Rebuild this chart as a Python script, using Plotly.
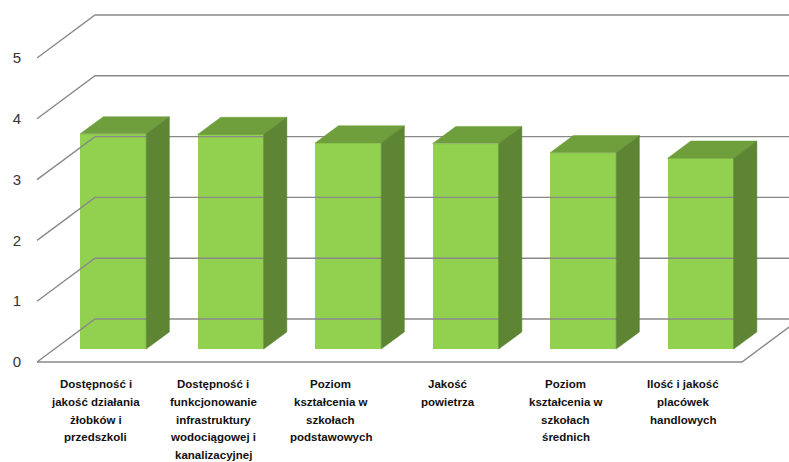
import plotly.graph_objects as go

# ---- data ----
categories = [
    "Dostępność i\njakość działania\nżłobków i\nprzedszkoli",
    "Dostępność i\nfunkcjonowanie\ninfrastruktury\nwodociągowej i\nkanalizacyjnej",
    "Poziom\nkształcenia w\nszkołach\npodstawowych",
    "Jakość\npowietrza",
    "Poziom\nkształcenia w\nszkołach\nśrednich",
    "Ilość i jakość\nplacówek\nhandlowych",
]
values = [3.54, 3.53, 3.39, 3.38, 3.23, 3.14]
y_ticks = [0, 1, 2, 3, 4, 5]
y_tick_labels = ["0", "1", "2", "3", "4", "5"]

# ---- style / geometry ----
FRONT = "#92D050"
TOP = "#6F9E3C"
SIDE = "#5D8533"
GRID = "#898989"
DX = 0.4936   # depth offset in category units
DY = 0.707    # depth offset in value units
D0, D1 = 0.3, 0.7  # bar depth span
BW = 0.562
n = len(categories)
XMIN = -0.0596
XMAX = XMIN + 759 / 117.5
YMIN = -10 / 60.8
YMAX = 362 / 60.8

fig = go.Figure()

# back-wall gridlines with slanted left edges
for v in y_ticks:
    fig.add_trace(go.Scatter(
        x=[0, DX, XMAX + 1], y=[v, v + DY, v + DY], mode="lines",
        line=dict(color=GRID, width=1.4), hoverinfo="skip", showlegend=False))
# floor front and right edges
fig.add_trace(go.Scatter(
    x=[0, n, n + DX * 1.2], y=[0, 0, DY * 1.2], mode="lines",
    line=dict(color=GRID, width=1.4), hoverinfo="skip", showlegend=False))

base = D0 * DY
ddx = (D1 - D0) * DX
ddy = (D1 - D0) * DY
for i, v in enumerate(values):
    xc = i + 0.5 + D0 * DX
    xl, xr = xc - BW / 2, xc + BW / 2
    top = base + v
    # top face
    fig.add_trace(go.Scatter(
        x=[xl, xr, xr + ddx, xl + ddx, xl], y=[top, top, top + ddy, top + ddy, top],
        mode="lines", fill="toself", fillcolor=TOP, line=dict(color=TOP, width=0.5),
        hoverinfo="skip", showlegend=False))
    # side face
    fig.add_trace(go.Scatter(
        x=[xr, xr + ddx, xr + ddx, xr, xr], y=[base, base + ddy, top + ddy, top, base],
        mode="lines", fill="toself", fillcolor=SIDE, line=dict(color=SIDE, width=0.5),
        hoverinfo="skip", showlegend=False))

# front faces
fig.add_trace(go.Bar(
    x=[i + 0.5 + D0 * DX for i in range(n)], y=values, base=base, width=BW,
    marker=dict(color=FRONT, line=dict(width=0)), showlegend=False))

# category labels (pixel rows converted to paper coords)
plot_top, plot_bot = 0, 372
for i, lab in enumerate(categories):
    for j, line in enumerate(lab.split("\n")):
        py = 384 + j * 17.8
        fig.add_annotation(
            x=i + 0.5, xref="x", y=(plot_bot - py) / (plot_bot - plot_top), yref="paper",
            text=line, showarrow=False, xanchor="center", yanchor="middle",
            font=dict(family="Liberation Sans", size=11.5, color="#111111", weight="bold"))

fig.update_layout(
    width=789, height=462,
    margin=dict(l=30, r=0, t=0, b=90),
    plot_bgcolor="white", paper_bgcolor="white",
    bargap=0,
    xaxis=dict(range=[XMIN, XMAX], showgrid=False, zeroline=False,
               showticklabels=False, showline=False, fixedrange=True),
    yaxis=dict(range=[YMIN, YMAX], showgrid=False, zeroline=False, showline=False,
               tickvals=y_ticks, ticktext=y_tick_labels, ticks="",
               ticklabelstandoff=8,
               tickfont=dict(family="Liberation Sans", size=15, color="#333333"),
               fixedrange=True),
)

fig.write_html("out.html")
